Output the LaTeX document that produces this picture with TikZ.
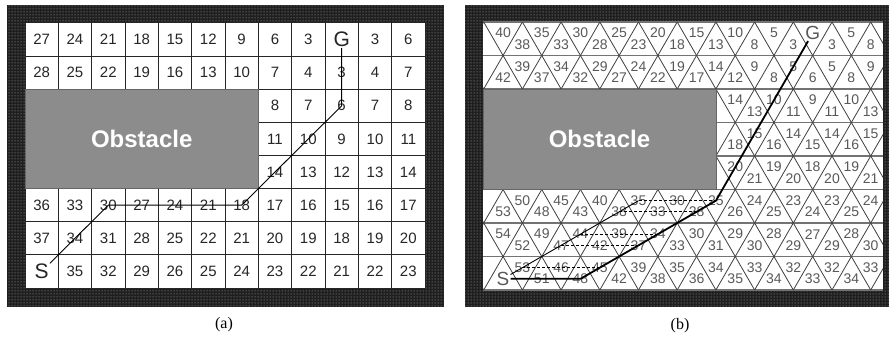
\documentclass[tikz,border=0pt]{standalone}
\usepackage{fontspec}
\setmainfont{Liberation Serif}
\setsansfont{Liberation Sans}
\usetikzlibrary{patterns}

\newcommand\marka[1]{{\fontsize{21}{21}\selectfont #1}}
\newcommand\markb[1]{{\fontsize{19}{19}\selectfont #1}}

\begin{document}
\begin{tikzpicture}[
    x=1pt, y=-1pt,
    frame/.style={fill=black!88, postaction={pattern=dots, pattern color=white!70!black}},
    obst/.style={fill=black!45, draw=black!60, line width=0.6pt},
    obstlabel/.style={text=white, font=\sffamily\bfseries\fontsize{24}{24}\selectfont},
    gridline/.style={draw=black!85, line width=1pt},
    cellnum/.style={font=\sffamily\fontsize{15}{15}\selectfont, text=black!85, inner sep=1pt},
    trinum/.style={font=\sffamily\fontsize{14}{14}\selectfont, text=black!65, inner sep=1pt},
    hline/.style={draw=black!55, line width=1.3pt},
    tline/.style={draw=black!75, line width=0.8pt},
    route/.style={draw=black, line width=0.9pt},
    mainroute/.style={draw=black, line width=1.8pt},
    altroute/.style={draw=black, line width=0.9pt},
    altstep/.style={draw=black, line width=0.7pt, dash pattern=on 3pt off 2pt},
    caption/.style={font=\fontsize{16}{16}\selectfont}
]
\useasboundingbox (0,0) rectangle (891,339);

% (a) square grid
\path[frame] (7,5) rectangle (444,307);
\fill[white] (25,23) rectangle (425,288);
\foreach \i in {0,...,12}
  \draw[gridline] (25+\i*33.333,23) -- ++(0,265);
\foreach \j in {0,...,8}
  \draw[gridline] (25,23+\j*33.125) -- ++(400,0);
\path[obst] (25,89.25) rectangle (258.33,188.75);
\node[obstlabel] (obsta) at (141.7,139) {Obstacle};

\foreach \r/\cst/\row in {
    0/0/{27,24,21,18,15,12,9,6,3,\marka{G},3,6},
    1/0/{28,25,22,19,16,13,10,7,4,3,4,7},
    2/7/{8,7,6,7,8},
    3/7/{11,10,9,10,11},
    4/7/{14,13,12,13,14},
    5/0/{36,33,30,27,24,21,18,17,16,15,16,17},
    6/0/{37,34,31,28,25,22,21,20,19,18,19,20},
    7/0/{\marka{S},35,32,29,26,25,24,23,22,21,22,23}}
  \foreach \v [count=\c from \cst] in \row
    \node[cellnum] (a-\c-\r) at (25+33.333*\c+16.667, 23+33.125*\r+16.56) {\v};

\draw[route] (a-0-7) -- (a-2-5.center) -- (a-6-5.center) -- (a-9-2.center) -- (a-9-0);
\node[caption] (capa) at (224,325) {(a)};

% (b) triangular grid
\path[frame] (465,5) rectangle (889,307);
\fill[white] (483,22) rectangle (883,290);
\begin{scope}
  \clip (483,22) rectangle (883,290);
  \foreach \j in {0,...,8}
    \draw[hline] (483,22+\j*33.5) -- ++(400,0);
  \foreach \i in {-5,...,15} {
    \draw[tline] (483.7+\i*38.7,22) -- ++(-154.8,268);
    \draw[tline] (483.7+\i*38.7,22) -- ++(154.8,268);
  }
\end{scope}
\path[obst] (483,89) rectangle (715.9,189.5);
\node[obstlabel] (obstb) at (599.5,139) {Obstacle};

\foreach \r/\kst/\row in {
    0/0/{40,38,35,33,30,28,25,23,20,18,15,13,10,8,5,3,\markb{G},3,5,8},
    1/0/{42,39,37,34,32,29,27,24,22,19,17,14,12,9,8,5,6,5,8,9},
    2/12/{14,13,10,11,9,11,10,13},
    3/12/{18,15,16,14,15,14,16,15},
    4/12/{20,21,19,20,18,20,19,21},
    5/0/{53,50,48,45,43,40,38,35,33,30,28,25,26,24,25,23,24,23,25,24},
    6/0/{54,52,49,47,44,42,39,37,34,33,30,31,29,30,28,29,27,29,28,30},
    7/0/{\markb{S},53,51,46,48,45,42,39,38,35,36,34,35,33,34,32,33,32,34,33}}
  \foreach \v [count=\k from \kst] in \row {
    \pgfmathsetmacro\dy{mod(\k+\r,2)==0 ? 11.17 : 22.33}
    \node[trinum] (b-\k-\r) at (503.05+19.35*\k, 22+33.5*\r+\dy) {\v};
  }

\draw[mainroute] (b-0-7) -- (b-4-7.center) -- (b-11-5.center) -- (b-16-0);
\draw[altroute] (b-0-7) -- (b-7-5.center);
\foreach \p/\q in {1-7/5-7, 3-6/7-6, 4-6/8-6, 6-5/10-5, 7-5/11-5}
  \draw[altstep] (b-\p.center) -- (b-\q.center);
\node[caption] (capb) at (680,326) {(b)};
\end{tikzpicture}
\end{document}
